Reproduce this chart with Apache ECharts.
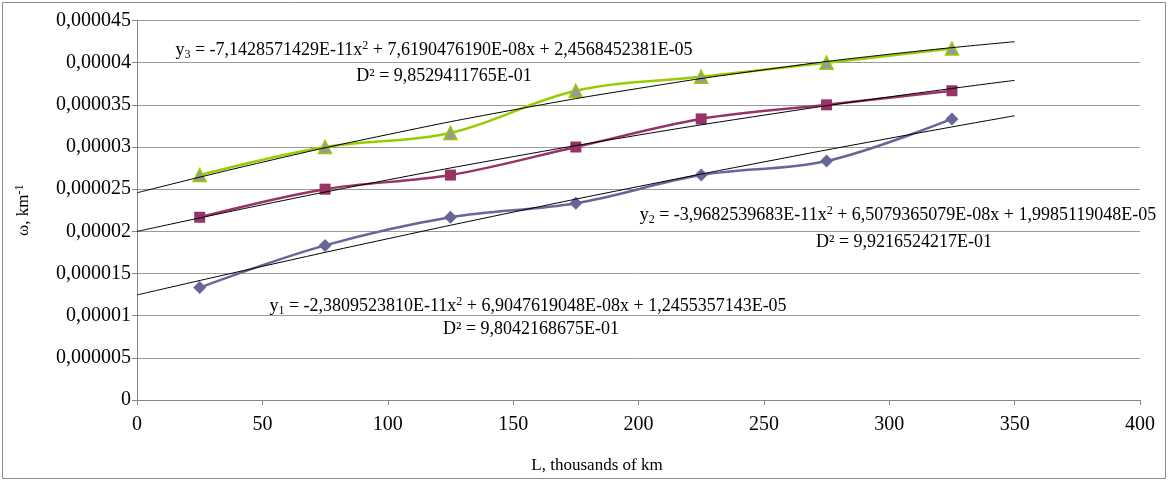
<!DOCTYPE html>
<html>
<head>
<meta charset="utf-8">
<script src="https://cdn.jsdelivr.net/npm/echarts@6/dist/echarts.min.js"></script>
<style>
  html, body { margin: 0; padding: 0; background: #fff; }
  #chart { width: 1171px; height: 481px; }
</style>
</head>
<body>
<div id="chart"></div>
<script>
// measured points (x = thousands of km)
const xPoints = [25, 75, 125, 175, 225, 275, 325];
const omega1 = [1.333e-5, 1.833e-5, 2.167e-5, 2.333e-5, 2.667e-5, 2.833e-5, 3.333e-5];
const omega2 = [2.167e-5, 2.5e-5, 2.667e-5, 3.0e-5, 3.333e-5, 3.5e-5, 3.667e-5];
const omega3 = [2.667e-5, 3.0e-5, 3.167e-5, 3.667e-5, 3.833e-5, 4.0e-5, 4.167e-5];

// trend lines, read at every 50
const trendX = [0, 50, 100, 150, 200, 250, 300, 350];
const trend1 = [1.2455e-5, 1.5848e-5, 1.9120e-5, 2.2276e-5, 2.5313e-5, 2.8229e-5, 3.1027e-5, 3.3705e-5];
const trend2 = [1.9985e-5, 2.3146e-5, 2.6096e-5, 2.8854e-5, 3.1414e-5, 3.3775e-5, 3.5937e-5, 3.7902e-5];
const trend3 = [2.4568e-5, 2.8199e-5, 3.1473e-5, 3.4390e-5, 3.6949e-5, 3.9152e-5, 4.0997e-5, 4.2485e-5];

// equation labels
const eqText = [
  "{t|y}{sub|1}{t| = -2,3809523810E-11x}{sup|2}{t| + 6,9047619048E-08x + 1,2455357143E-05}",
  "{t|y}{sub|2}{t| = -3,9682539683E-11x}{sup|2}{t| + 6,5079365079E-08x + 1,9985119048E-05}",
  "{t|y}{sub|3}{t| = -7,1428571429E-11x}{sup|2}{t| + 7,6190476190E-08x + 2,4568452381E-05}"
];
const r2Text = ["D² = 9,8042168675E-01", "D² = 9,9216524217E-01", "D² = 9,8529411765E-01"];

const FONT = '"Liberation Serif", "DejaVu Serif", serif';

const pairs = (xs, ys) => xs.map((x, i) => [x, ys[i]]);

const richStyle = {
  t: { fontSize: 18, fontFamily: FONT, color: '#000' },
  sub: { fontSize: 12, fontFamily: FONT, color: '#000', verticalAlign: 'bottom', padding: [7, 0, 0, 0] },
  sup: { fontSize: 12, fontFamily: FONT, color: '#000', verticalAlign: 'top', padding: [0, 0, 9, 0] }
};

const chart = echarts.init(document.getElementById('chart'), null, { renderer: 'canvas' });

const dataSeries = (name, ys, color, symbol, size, fill) => ({
  name,
  type: 'line',
  data: pairs(xPoints, ys),
  smooth: 0.35,
  symbol,
  symbolSize: size,
  lineStyle: { color, width: 2.5 },
  itemStyle: { color: fill || color, borderColor: color, borderWidth: fill ? 1.5 : 0 },
  z: 3
});

const trendSeries = (ys) => ({
  type: 'line',
  data: pairs(trendX, ys),
  smooth: true,
  symbol: 'none',
  lineStyle: { color: '#000', width: 1 },
  z: 4,
  silent: true
});

// centred text block
const labelText = (str, x, y, size) => ({
  type: 'text',
  x, y,
  style: {
    text: str, rich: richStyle, font: size + 'px ' + FONT, fill: '#000',
    align: 'center', verticalAlign: 'middle'
  }
});

chart.setOption({
  animation: false,
  grid: { left: 137, right: 31, top: 20.5, bottom: 81 },
  xAxis: {
    type: 'value',
    min: 0, max: 400, interval: 50,
    axisLine: { show: true, lineStyle: { color: '#868686', width: 1 } },
    axisTick: { show: true, length: 5, lineStyle: { color: '#868686' } },
    axisLabel: { fontFamily: FONT, fontSize: 20, color: '#000', margin: 15 },
    splitLine: { show: false }
  },
  yAxis: {
    type: 'value',
    min: 0, max: 0.000045, interval: 0.000005,
    name: '{n|ω, km}{s|-1}',
    nameLocation: 'middle',
    nameGap: 103,
    nameTextStyle: {
      rich: {
        n: { fontFamily: FONT, fontSize: 17, color: '#000' },
        s: { fontFamily: FONT, fontSize: 12, color: '#000', verticalAlign: 'top', padding: [0, 0, 8, 0] }
      }
    },
    axisLine: { show: true, lineStyle: { color: '#868686', width: 1 } },
    axisTick: { show: true, length: 5, lineStyle: { color: '#868686' } },
    axisLabel: {
      fontFamily: FONT, fontSize: 20, color: '#000', margin: 6,
      formatter: (v) => {
        if (v === 0) return '0';
        let s = v.toFixed(6).replace(/0+$/, '');
        return s.replace('.', ',');
      }
    },
    splitLine: { show: true, lineStyle: { color: '#9a9a9a', width: 1 } }
  },
  graphic: [
    {
      type: 'rect',
      shape: { x: 2.5, y: 2.5, width: 1163, height: 476 },
      style: { fill: 'none', stroke: '#8c8c8c', lineWidth: 1 },
      silent: true, z: -10
    },
    labelText(eqText[2], 434, 50, 18),
    labelText(r2Text[2], 444, 76, 18),
    labelText(eqText[1], 898, 215, 18),
    labelText(r2Text[1], 904, 242, 18),
    labelText(eqText[0], 528, 306, 18),
    labelText(r2Text[0], 531, 329, 18),
    {
      type: 'text', x: 597, y: 466,
      style: { text: 'L, thousands of km', font: '17px ' + FONT, fill: '#000', align: 'center', verticalAlign: 'middle' }
    }
  ],
  series: [
    dataSeries('ω1', omega1, '#666699', 'diamond', 13),
    dataSeries('ω2', omega2, '#993366', 'rect', 11),
    dataSeries('ω3', omega3, '#99cc00', 'triangle', 13, '#999999'),
    trendSeries(trend1),
    trendSeries(trend2),
    trendSeries(trend3)
  ]
});
</script>
</body>
</html>
